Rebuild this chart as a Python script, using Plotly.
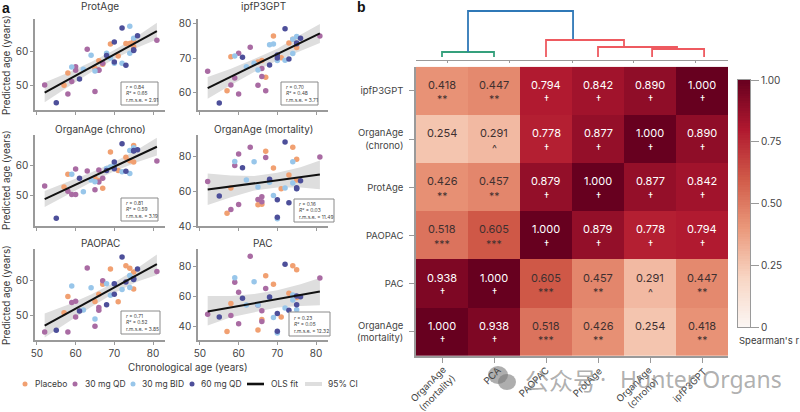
import plotly.graph_objects as go

FONT = "Inter"
TXT = "#3a3a3a"
AXC = "#9a9a9a"

# Chronological ages by treatment group
age_placebo = [57, 58, 65, 66, 67, 69, 71, 73, 74, 75, 75]
age_qd30 = [52, 58, 59, 60, 60, 63, 65, 66, 66, 67, 81]
age_bid30 = [59, 62, 64, 65, 68, 69, 70, 72, 74, 74, 75]
age_qd60 = [55, 61, 68, 70, 70, 72, 73, 75, 75, 76]

protage_placebo = [50.2, 53.7, 55.1, 57.2, 56.2, 62, 58.6, 62.2, 62.2, 61.3, 63]
protage_qd30 = [50.3, 47.7, 51.3, 55.5, 54.5, 60.5, 48.4, 54.5, 54.6, 56.5, 63.1]
protage_bid30 = [55.4, 54.8, 58.8, 54.3, 59.4, 58, 56.5, 56.5, 59.4, 67.1, 63.7]
protage_qd60 = [45.2, 52, 58.7, 62.6, 56.9, 66.6, 55.9, 60.2, 60.4, 64.4]

ipf_placebo = [60.6, 70.4, 68.9, 69.3, 64.5, 76.3, 70.1, 74.3, 75.4, 73, 74.2]
ipf_qd30 = [66.2, 62.3, 64.3, 71.4, 59.7, 73.1, 62.2, 67, 64.7, 60.6, 76.3]
ipf_bid30 = [70.6, 67.5, 68.5, 66.6, 73.8, 74, 69.3, 69.4, 71.3, 75.4, 76.2]
ipf_qd60 = [57.1, 70.2, 68, 70.9, 70, 78.4, 69.7, 74.1, 74.3, 75.7]

chrono_placebo = [52.9, 57, 55.7, 55, 52.5, 64.2, 58.2, 62.5, 61.4, 61, 66.3]
chrono_qd30 = [53.2, 51.5, 50.5, 58.7, 50.5, 58.1, 52, 58.4, 54.5, 55.7, 61.3]
chrono_bid30 = [57, 51.4, 55.2, 54.6, 58.9, 59.4, 60, 57.8, 57.3, 64.7, 65.6]
chrono_qd60 = [42.8, 55.7, 58.2, 61, 58.8, 66.9, 58, 64.5, 64.7, 64.9]

mort_placebo = [47.3, 61.7, 52.1, 52.5, 82.7, 73.1, 61.3, 69.2, 85, 78.1, 66.3]
mort_qd30 = [65.4, 49.4, 74.6, 81.2, 52.3, 85, 55.2, 56.7, 53.8, 79.2, 79.4]
mort_bid30 = [76.9, 66.3, 76.7, 62.3, 65, 57.5, 44.2, 61.7, 64.6, 76.7, 61.5]
mort_qd60 = [57.1, 73.3, 66.7, 55, 45, 88, 53.3, 61.3, 61.9, 65.8]

paopac_placebo = [50.7, 55.3, 53.9, 56, 58.8, 63.2, 53.8, 64.1, 63.4, 62.3, 57.5]
paopac_qd30 = [45.2, 45.2, 53.6, 54, 49.5, 63.5, 46.8, 52.2, 51.4, 59.8, 62.5]
paopac_bid30 = [58.3, 51.5, 57.8, 48.9, 59, 55.7, 58.9, 57.3, 61.3, 57.9, 60.2]
paopac_qd60 = [45.7, 51.2, 53, 59, 56, 66.6, 59.5, 60.2, 60.5, 63.2]

pac_placebo = [36.9, 55.7, 38, 44.9, 74.2, 68.5, 46.7, 62.5, 80.9, 78.2, 59.6]
pac_qd30 = [48.5, 47.6, 69.9, 63.1, 42.2, 87.2, 54.6, 50.8, 43.6, 65.6, 72.6]
pac_bid30 = [72.8, 54.6, 70.1, 54.6, 59.6, 46.3, 36, 52.6, 58, 61.3, 51.5]
pac_qd60 = [46.7, 59.1, 60, 49, 37.1, 81.8, 51.2, 54.8, 60.7, 60.2]

# OLS fit end points and 95% CI band
fit_x = [52, 81]
ci_x = [52, 58, 64, 70, 76, 81]
protage_fit = [48.1, 65.7]
protage_hi = [51, 53.8, 56.9, 60.3, 64.3, 68.1]
protage_lo = [45.3, 49.7, 53.9, 57.7, 61, 63.3]
ipf_fit = [61.4, 77.1]
ipf_hi = [64.6, 66.9, 69.7, 72.7, 76.7, 79.8]
ipf_lo = [58.3, 62.3, 66, 69.3, 72, 74.3]
chrono_fit = [49, 65.9]
chrono_hi = [51.6, 54.5, 57.6, 61, 65, 68.8]
chrono_lo = [46.4, 50.5, 54.4, 58, 61, 63.1]
mort_fit = [60.8, 69.4]
mort_hi = [70, 68.8, 68.6, 70.5, 73.6, 77.5]
mort_lo = [52, 56.5, 60.3, 62, 62, 61]
paopac_fit = [47, 64.6]
paopac_hi = [50.5, 53, 55.9, 59.3, 63.5, 67.3]
paopac_lo = [43.6, 48, 52.3, 56.3, 59.6, 61.5]
pac_fit = [50.3, 63.6]
pac_hi = [60.7, 60.7, 62, 64.5, 68.5, 72.6]
pac_lo = [41, 46.5, 50, 53, 54, 54.4]

# Heatmap
hm_x = ["OrganAge<br>(mortality)", "PCA", "PAOPAC", "ProtAge", "OrganAge<br>(chrono)", "ipfP3GPT"]
hm_y = ["ipfP3GPT", "OrganAge<br>(chrono)", "ProtAge", "PAOPAC", "PAC", "OrganAge<br>(mortality)"]
hm_z = [
    [0.418, 0.447, 0.794, 0.842, 0.890, 1.000],
    [0.254, 0.291, 0.778, 0.877, 1.000, 0.890],
    [0.426, 0.457, 0.879, 1.000, 0.877, 0.842],
    [0.518, 0.605, 1.000, 0.879, 0.778, 0.794],
    [0.938, 1.000, 0.605, 0.457, 0.291, 0.447],
    [1.000, 0.938, 0.518, 0.426, 0.254, 0.418],
]
hm_sig = [
    ["**", "**", "†", "†", "†", "†"],
    ["", "^", "†", "†", "†", "†"],
    ["**", "**", "†", "†", "†", "†"],
    ["***", "***", "†", "†", "†", "†"],
    ["†", "†", "***", "**", "^", "**"],
    ["†", "†", "***", "**", "", "**"],
]
cb_stops = [[0, "#fbf6f3"], [0.2, "#f8d5c3"], [0.4, "#ea987a"], [0.6, "#d05a48"], [0.8, "#b0182f"], [1, "#67001f"]]
cb_ramp = [i / 100 for i in range(101)]
cb_ticks = [0, 0.25, 0.5, 0.75, 1]
cb_labels = ["0", "0.25", "0.50", "0.75", "1.00"]

# Dendrogram: leaf positions and merge heights
den_green_x = [0, 0, 1, 1]
den_green_y = [3, 8, 8, 3]
den_blue_x = [0.5, 0.5, 2.52, 2.52]
den_blue_y = [8, 49, 49, 20]
den_red_top_x = [2, 2, 3.5, 3.5]
den_red_top_y = [3, 20, 20, 13]
den_red_mid_x = [3, 3, 4.52, 4.52]
den_red_mid_y = [3, 13, 13, 11]
den_red_low_x = [4.04, 4.04, 5.04, 5.04]
den_red_low_y = [3, 11, 11, 3]
den_ticks = [0.1, 1.3, 2.5, 3.69, 4.88]

COL_PLACEBO = "#f1a071"
COL_QD30 = "#a96ba3"
COL_BID30 = "#98c6ea"
COL_QD60 = "#4d4f9a"


def px(v):
    return v / 800


def py(v):
    return 1 - v / 412


fig = go.Figure()
annotations = []
shapes = []
layout_axes = {}


def note(text, x, y, size=10, color=TXT, xanchor="center", **kw):
    annotations.append(dict(text=text, x=px(x), y=py(y), xref="paper", yref="paper", showarrow=False,
                            xanchor=xanchor, yanchor="middle",
                            font=dict(family=kw.pop("family", FONT), size=size, color=color), **kw))


panels = [
    dict(title="ProtAge", data=[protage_placebo, protage_qd30, protage_bid30, protage_qd60],
         fit=protage_fit, hi=protage_hi, lo=protage_lo, dom=(35, 165, 19, 110), xr=(49.5, 83.1), yr=(43.1, 69.2),
         yt=[50, 60], stats=("0.84", "0.65", "2.91"), box=(121, 158, 82, 105), tx=100, ty=6),
    dict(title="ipfP3GPT", data=[ipf_placebo, ipf_qd30, ipf_bid30, ipf_qd60],
         fit=ipf_fit, hi=ipf_hi, lo=ipf_lo, dom=(198, 328, 19, 110), xr=(49.5, 83.1), yr=(55.1, 81.2),
         yt=[60, 70, 80], stats=("0.70", "0.48", "3.71"), box=(281, 318, 82, 105), tx=263, ty=6),
    dict(title="OrganAge (chrono)", data=[chrono_placebo, chrono_qd30, chrono_bid30, chrono_qd60],
         fit=chrono_fit, hi=chrono_hi, lo=chrono_lo, dom=(35, 165, 135, 226), xr=(49.5, 83.1), yr=(40.3, 69.7),
         yt=[50, 60], stats=("0.81", "0.59", "3.19"), box=(121, 158, 198, 221), tx=100, ty=129),
    dict(title="OrganAge (mortality)", data=[mort_placebo, mort_qd30, mort_bid30, mort_qd60],
         fit=mort_fit, hi=mort_hi, lo=mort_lo, dom=(198, 328, 135, 226), xr=(49.5, 83.1), yr=(40, 92),
         yt=[40, 60, 80], stats=("0.16", "0.03", "11.49"), box=(294, 334, 199, 222), tx=263, ty=129),
    dict(title="PAOPAC", data=[paopac_placebo, paopac_qd30, paopac_bid30, paopac_qd60],
         fit=paopac_fit, hi=paopac_hi, lo=paopac_lo, dom=(35, 165, 249, 340), xr=(49.5, 83.1), yr=(42.9, 68.9),
         yt=[50, 60], stats=("0.71", "0.52", "3.85"), box=(121, 160, 311, 334), tx=100, ty=243),
    dict(title="PAC", data=[pac_placebo, pac_qd30, pac_bid30, pac_qd60],
         fit=pac_fit, hi=pac_hi, lo=pac_lo, dom=(198, 328, 249, 340), xr=(49.5, 83.1), yr=(31.3, 92),
         yt=[40, 60, 80], stats=("0.23", "0.05", "12.32"), box=(289, 330, 312, 336), tx=263, ty=243),
]

ages = [age_placebo, age_qd30, age_bid30, age_qd60]
cols = [COL_PLACEBO, COL_QD30, COL_BID30, COL_QD60]
names = ["Placebo", "30 mg QD", "30 mg BID", "60 mg QD"]

for i, p in enumerate(panels):
    n = i + 1
    xa, ya = f"x{n}", f"y{n}"
    fig.add_trace(go.Scatter(x=ci_x + ci_x[::-1], y=p["hi"] + p["lo"][::-1], mode="lines", fill="toself",
                             fillcolor="#dedede", line=dict(width=0), xaxis=xa, yaxis=ya, showlegend=False,
                             hoverinfo="skip"))
    for a, d, c, nm in zip(ages, p["data"], cols, names):
        fig.add_trace(go.Scatter(x=a, y=d, mode="markers", name=nm, marker=dict(size=5.5, color=c),
                                 xaxis=xa, yaxis=ya, showlegend=False))
    fig.add_trace(go.Scatter(x=fit_x, y=p["fit"], mode="lines", line=dict(color="#111111", width=2),
                             xaxis=xa, yaxis=ya, showlegend=False))
    l, r, t, b = p["dom"]
    common = dict(showgrid=False, zeroline=False, showline=True, linecolor=AXC, linewidth=1.5, ticks="outside",
                  ticklen=3, tickwidth=1, tickcolor=AXC, tickfont=dict(family=FONT, size=10, color="#444444"))
    layout_axes[f"xaxis{n}"] = dict(domain=[px(l), px(r)], range=list(p["xr"]), anchor=ya, tickvals=[50, 60, 70, 80],
                                    showticklabels=i >= 4, **common)
    layout_axes[f"yaxis{n}"] = dict(domain=[py(b), py(t)], range=list(p["yr"]), anchor=xa, tickvals=p["yt"], **common)
    note(p["title"], p["tx"], p["ty"], size=10)
    bl, br, bt, bb = p["box"]
    shapes.append(dict(type="rect", xref="paper", yref="paper", x0=px(bl), x1=px(br), y0=py(bt), y1=py(bb),
                       line=dict(color="#8a8a8a", width=1), fillcolor="white", layer="above"))
    rv, r2, rm = p["stats"]
    note(f"<i>r</i> = {rv}<br><i>R</i>² = {r2}<br>r.m.s.e. = {rm}", bl + 3, (bt + bb) / 2, size=4.9,
         xanchor="left", align="left", color="#444444")

# Heatmap
fig.add_trace(go.Heatmap(z=hm_z, x=hm_x, y=hm_y, colorscale=cb_stops, zmin=0, zmax=1, xaxis="x7", yaxis="y7",
                         showscale=False))
hm_common = dict(showgrid=False, zeroline=False, showline=True, linecolor=AXC, linewidth=1.5, ticks="outside",
                 ticklen=5, tickwidth=1, tickcolor=AXC, tickfont=dict(family=FONT, size=9.5, color="#444444"))
layout_axes["xaxis7"] = dict(domain=[px(416), px(728)], anchor="y7", type="category", showticklabels=False,
                             categoryorder="array", categoryarray=hm_x, **hm_common)
layout_axes["yaxis7"] = dict(domain=[py(356), py(66.7)], anchor="x7", type="category", categoryorder="array",
                             categoryarray=hm_y[::-1], ticklabelstandoff=4, **hm_common)

for ri, row in enumerate(hm_z):
    for ci, val in enumerate(row):
        col = "white" if val >= 0.75 else "#3f3030"
        annotations.append(dict(text=f"{val:.3f}", x=hm_x[ci], y=hm_y[ri], xref="x7", yref="y7", showarrow=False,
                                xanchor="center", yanchor="middle", yshift=6,
                                font=dict(family=FONT, size=11, color=col)))
        if hm_sig[ri][ci]:
            annotations.append(dict(text=hm_sig[ri][ci], x=hm_x[ci], y=hm_y[ri], xref="x7", yref="y7",
                                    showarrow=False, xanchor="center", yanchor="middle", yshift=-9,
                                    font=dict(family=FONT, size=10.5, color=col)))

# Rotated column labels under the heatmap
for lab, (lx, ly) in zip(hm_x, [(432, 388), (492, 375), (533, 382), (587, 382), (638, 388), (689, 385)]):
    note(lab, lx, ly, size=9.5, textangle=-45, color="#444444")

# Colour scale bar as its own small axis
fig.add_trace(go.Heatmap(z=[[v] for v in cb_ramp], x=[0], y=cb_ramp, colorscale=cb_stops, zmin=0, zmax=1,
                         xaxis="x9", yaxis="y9", showscale=False, hoverinfo="skip"))
layout_axes["xaxis9"] = dict(domain=[px(738), px(750)], anchor="y9", showticklabels=False, ticks="", showgrid=False,
                             zeroline=False, showline=True, linecolor=AXC, linewidth=1, mirror=True)
layout_axes["yaxis9"] = dict(domain=[py(327), py(80)], anchor="x9", side="right", range=[0, 1], tickvals=cb_ticks,
                             ticktext=cb_labels, showgrid=False, zeroline=False, showline=True, linecolor=AXC,
                             linewidth=1, mirror=True, ticks="outside", ticklen=8, tickcolor=AXC, tickwidth=1,
                             tickfont=dict(family=FONT, size=10, color="#444444"))

# Dendrogram
for dx, dy, c in [(den_green_x, den_green_y, "#35a07c"), (den_blue_x, den_blue_y, "#2f78b7"),
                  (den_red_top_x, den_red_top_y, "#ee5a60"), (den_red_mid_x, den_red_mid_y, "#ee5a60"),
                  (den_red_low_x, den_red_low_y, "#ee5a60")]:
    fig.add_trace(go.Scatter(x=dx, y=dy, mode="lines", line=dict(color=c, width=1.8), xaxis="x8", yaxis="y8",
                             showlegend=False, hoverinfo="skip"))
layout_axes["xaxis8"] = dict(domain=[px(416), px(728)], range=[-0.5, 5.5], anchor="y8", tickvals=den_ticks,
                             showticklabels=False, showgrid=False, zeroline=False, showline=True, linecolor=AXC,
                             linewidth=1.2, ticks="outside", ticklen=2, tickcolor=AXC, tickwidth=1)
layout_axes["yaxis8"] = dict(domain=[py(60), py(0)], range=[0, 60], anchor="x8", visible=False)

# Shared texts
note("<b>a</b>", 6, 8, size=14, family="Liberation Sans", color="#111111")
note("<b>b</b>", 361, 7, size=14, family="Liberation Sans", color="#111111")
for yc in [65, 180, 295]:
    note("Predicted age (years)", 6, yc, size=9.8, textangle=-90)
note("Chronological age (years)", 188, 367, size=9.8)
note("Spearman's r", 769, 340, size=9.5)

# Legend keys
LEG_Y = 384
for cx, c in [(25, COL_PLACEBO), (75, COL_QD30), (133, COL_BID30), (192, COL_QD60)]:
    shapes.append(dict(type="circle", xref="paper", yref="paper", x0=px(cx - 2.5), x1=px(cx + 2.5), y0=py(LEG_Y - 2.5),
                       y1=py(LEG_Y + 2.5), fillcolor=c, line=dict(width=0)))
shapes.append(dict(type="rect", xref="paper", yref="paper", x0=px(247), x1=px(264), y0=py(LEG_Y - 1.3),
                   y1=py(LEG_Y + 1.3), fillcolor="#111111", line=dict(width=0)))
shapes.append(dict(type="rect", xref="paper", yref="paper", x0=px(305), x1=px(322), y0=py(LEG_Y - 2),
                   y1=py(LEG_Y + 2), fillcolor="#dedede", line=dict(width=0)))
for tx, label in [(33, "Placebo"), (83, "30 mg QD"), (140, "30 mg BID"), (199, "60 mg QD"), (269, "OLS fit"),
                  (326, "95% CI")]:
    note(label, tx, LEG_Y, size=8.5, xanchor="left")

# Watermark present in the reference
WM = "rgba(125,125,125,0.62)"
for cx, cy, rx, ry in [(498, 375, 10, 9), (507, 382, 9, 8)]:
    shapes.append(dict(type="circle", xref="paper", yref="paper", x0=px(cx - rx), x1=px(cx + rx), y0=py(cy - ry),
                       y1=py(cy + ry), fillcolor=WM, line=dict(width=0), layer="above"))
note("公众号", 523, 379, size=24, color=WM, xanchor="left", family="Noto Sans CJK SC")
note("·", 603, 379, size=23, color=WM, family="Noto Sans")
note("Hunter Organs", 618, 379, size=23, color=WM, xanchor="left", family="Noto Sans")

fig.update_layout(width=800, height=412, margin=dict(l=0, r=0, t=0, b=0, autoexpand=False), paper_bgcolor="white",
                  plot_bgcolor="white", showlegend=False, annotations=annotations, shapes=shapes,
                  font=dict(family=FONT, color=TXT), **layout_axes)
fig.write_html("out.html", config={"displayModeBar": False},
               post_script="document.body.style.margin='0';document.body.style.overflow='hidden';")
